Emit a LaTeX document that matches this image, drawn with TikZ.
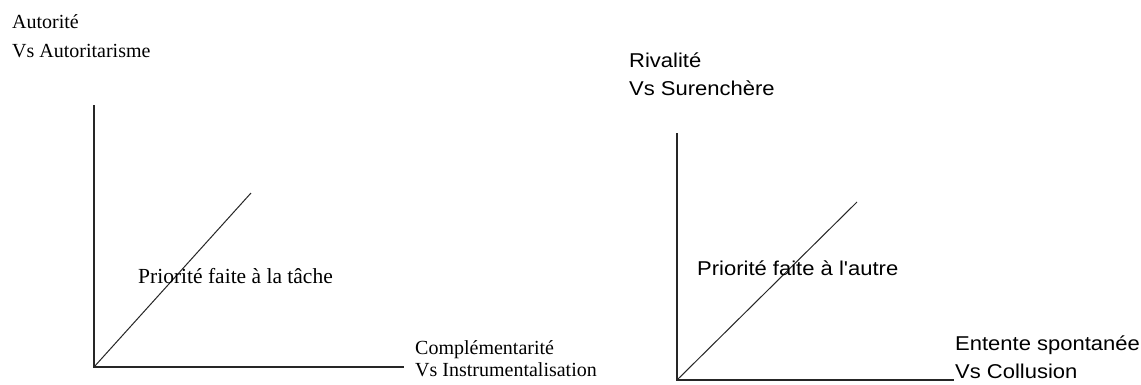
\documentclass[tikz,border=0pt]{standalone}
\usepackage{fontspec}
\setmainfont{Liberation Serif}
\newfontfamily\axsans[FakeStretch=1.1]{Liberation Sans}
\begin{document}
\begin{tikzpicture}[x=1pt,y=-1pt,
  serlab/.style={anchor=base west,inner sep=0pt,font=\fontsize{20}{23}\selectfont},
  sanlab/.style={anchor=base west,inner sep=0pt,font=\axsans\fontsize{20}{23}\selectfont},
  axis/.style={line width=1.6pt,black!85},
  diag/.style={line width=1pt,black!85}]
\useasboundingbox[fill=white] (0,0) rectangle (1141,384);
% left chart
\coordinate (O1) at (94,367);
\coordinate (Y1) at (94,105);
\coordinate (X1) at (404,367);
\coordinate (D1) at (251,193);
\draw[axis] (Y1) -- (O1) -- (X1);
\draw[diag] (O1) -- (D1);
\node[serlab] (a1) at (12,28) {Autorité};
\node[serlab] (a2) at (12,57) {Vs Autoritarisme};
\node[serlab,font=\fontsize{21.5}{24}\selectfont] (p1) at (138,283) {Priorité faite à la tâche};
\node[serlab] (c1) at (415,354) {Complémentarité};
\node[serlab] (c2) at (415,376) {Vs Instrumentalisation};
% right chart
\coordinate (O2) at (677,380);
\coordinate (Y2) at (677,133);
\coordinate (X2) at (954,380);
\coordinate (D2) at (857,202);
\draw[axis] (Y2) -- (O2) -- (X2);
\draw[diag] (O2) -- (D2);
\node[sanlab] (r1) at (629,67) {Rivalité};
\node[sanlab] (r2) at (629,95) {Vs Surenchère};
\node[sanlab] (p2) at (697,275) {Priorité faite à l'autre};
\node[sanlab] (e1) at (955,350) {Entente spontanée};
\node[sanlab] (e2) at (955,378) {Vs Collusion};
\end{tikzpicture}
\end{document}
